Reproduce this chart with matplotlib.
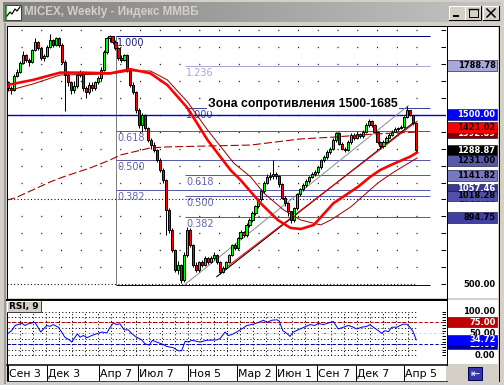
import numpy as np
import matplotlib
matplotlib.use("Agg")
import matplotlib.pyplot as plt
from matplotlib.patches import Rectangle
from matplotlib.colors import LinearSegmentedColormap

plt.rcParams['lines.scale_dashes'] = False

# ---- weekly candles (bar index 0 = week of Sep 3 2007) ----
closes = [1657, 1646, 1728, 1752, 1805, 1852, 1822, 1811, 1881, 1929,
          1893, 1834, 1846, 1899, 1940, 1911, 1952, 1911, 1811, 1734,
          1693, 1646, 1669, 1734, 1752, 1657, 1634, 1675, 1657, 1693,
          1716, 1763, 1870, 1952, 1964, 1929, 1893, 1834, 1822, 1852,
          1763, 1675, 1634, 1528, 1439, 1498, 1422, 1351, 1321, 1292,
          1233, 1174, 1115, 938, 820, 702, 584, 614, 525, 673,
          820, 732, 614, 584, 631, 614, 655, 631, 655, 673,
          631, 573, 596, 631, 673, 732, 714, 773, 808, 791,
          850, 880, 920, 960, 1000, 1050, 1100, 1130, 1140, 1150,
          1140, 1090, 1010, 980, 930, 880, 950, 1030, 1060, 1085,
          1110, 1130, 1150, 1160, 1190, 1230, 1250, 1280, 1300, 1350,
          1390, 1330, 1300, 1290, 1340, 1380, 1360, 1385, 1375, 1400,
          1440, 1462, 1440, 1400, 1340, 1315, 1340, 1365, 1380, 1400,
          1415, 1420, 1430, 1487, 1528, 1498, 1451, 1289]
highs = [1700, 1670, 1740, 1770, 1815, 1875, 1860, 1835, 1890, 1950,
         1935, 1900, 1860, 1910, 1975, 1945, 1960, 1960, 1920, 1820,
         1760, 1700, 1700, 1745, 1765, 1760, 1670, 1690, 1690, 1700,
         1730, 1780, 1880, 1960, 1970, 1966, 1940, 1900, 1850, 1860,
         1855, 1770, 1690, 1640, 1540, 1510, 1505, 1430, 1365, 1340,
         1300, 1245, 1185, 1120, 950, 830, 710, 640, 620, 690,
         840, 830, 740, 630, 640, 645, 665, 660, 665, 690,
         680, 640, 605, 640, 680, 740, 745, 780, 820, 815,
         860, 890, 930, 970, 1010, 1060, 1110, 1150, 1160, 1233,
         1165, 1145, 1095, 1020, 985, 935, 955, 1040, 1070, 1095,
         1120, 1140, 1160, 1175, 1200, 1240, 1260, 1290, 1310, 1360,
         1400, 1395, 1340, 1310, 1350, 1390, 1390, 1395, 1390, 1410,
         1450, 1475, 1470, 1445, 1405, 1345, 1350, 1375, 1390, 1410,
         1425, 1430, 1440, 1495, 1553, 1530, 1500, 1455]
lows = [1640, 1620, 1640, 1720, 1745, 1800, 1810, 1790, 1805, 1875,
        1880, 1820, 1815, 1840, 1895, 1900, 1905, 1900, 1800, 1520,
        1670, 1620, 1630, 1660, 1720, 1640, 1600, 1620, 1640, 1645,
        1680, 1700, 1760, 1860, 1930, 1915, 1880, 1825, 1810, 1815,
        1750, 1665, 1620, 1510, 1420, 1400, 1410, 1340, 1300, 1280,
        1220, 1160, 1100, 790, 800, 690, 570, 560, 505, 515,
        660, 720, 600, 570, 575, 600, 605, 620, 625, 645,
        620, 560, 565, 590, 625, 665, 700, 705, 765, 780,
        780, 840, 870, 910, 950, 990, 1040, 1090, 1115, 1120,
        1120, 1075, 1000, 960, 900, 861, 870, 940, 1020, 1050,
        1075, 1100, 1125, 1140, 1150, 1180, 1220, 1240, 1270, 1290,
        1340, 1320, 1290, 1280, 1285, 1330, 1350, 1355, 1360, 1365,
        1390, 1430, 1430, 1390, 1330, 1300, 1305, 1335, 1360, 1375,
        1395, 1405, 1415, 1420, 1480, 1490, 1440, 1280]
opens = [1690] + closes[:-1]  # each week opens at the previous close

# moving averages (bar index, price)
ma_fast_idx = [-0.4, 8.3, 17.4, 25.2, 34.2, 41.0, 47.7, 53.4, 60.2, 66.9, 74.6, 78.0,
               84.7, 90.5, 94.8, 98.2, 102.6, 109.2, 117.4, 121.5, 124.9, 129.2, 134.9, 137.3]
ma_fast = [1675, 1705, 1748, 1748, 1744, 1768, 1744, 1675, 1539, 1351, 1174, 1115,
           979, 879, 832, 826, 850, 978, 1074, 1133, 1174, 1209, 1252, 1277]
ma_slow_idx = [-0.4, 8.3, 17.4, 34.2, 41.0, 47.7, 53.4, 60.2, 66.9, 75.7, 81.4, 85.8,
               92.5, 98.2, 104.9, 108.3, 115.0, 124.1, 129.5, 137.3]
ma_slow = [1640, 1681, 1734, 1740, 1758, 1758, 1705, 1575, 1410, 1215, 1133, 1038,
           938, 879, 850, 879, 956, 1097, 1162, 1245]
ma_long_idx = [-0.44, 2.3, 14.0, 18.4, 27.5, 34.2, 37.6, 47.7, 53.4, 81.4, 98.2, 109.3, 122.8, 137.6]
ma_long = [997, 1009, 1103, 1133, 1186, 1233, 1262, 1304, 1310, 1321, 1357, 1368, 1386, 1398]

# trend lines
trend_gray = ([59.4, 134.3], [500, 1553])
trend_black = ([70.0, 135.9], [545, 1451])
trend_red = ([71.1, 137.3], [572, 1462])

# fibonacci sets: (start index, low, high)
fib1 = (36.2, 495.7, 1966.4)
fib1_levels = [0.382, 0.5, 0.618]
fib2 = (59.4, 494.84, 1541.7)
fib2_levels = [0.382, 0.5, 0.618, 1.0, 1.236]
resist_level = 1500

# right scale labels: (text, position, face, text colour); later ones cover earlier
price_tags = [("1788.78", 1788.78, "#a8a8d8", "black"),
              ("1500.00", 1500.0, "#0000ff", "white"),
              ("1392.89", 1392.0, "#800000", "white"),
              ("1421.02", 1426.0, "#ff0000", "#200000"),
              ("1288.87", 1288.87, "#000000", "white"),
              ("1231.00", 1231.0, "#5858a8", "black"),
              ("1141.82", 1141.82, "#7878c0", "black"),
              ("1000.00", 998.0, "#ffffff", "black"),
              ("1057.46", 1062.0, "#383890", "white"),
              ("1018.28", 1021.0, "#5050a8", "black"),
              ("894.75", 894.75, "#4040a0", "black"),
              ("500.00", 500.0, "#ffffff", "black")]

# RSI(9)
rsi_idx = [-0.3, 1.1, 2.3, 4.5, 5.6, 6.7, 9.0, 10.9, 12.9, 14.0,
           15.1, 16.8, 17.9, 19.0, 20.7, 21.3, 22.1, 23.2, 24.1, 25.2,
           26.5, 28.0, 29.7, 31.4, 33.1, 34.2, 35.3, 36.4, 37.5, 38.9,
           40.3, 41.5, 43.1, 44.8, 45.9, 47.3, 48.4, 49.8, 51.5, 53.2,
           55.4, 57.1, 58.2, 59.4, 60.5, 61.6, 64.4, 66.6, 70.0, 71.1,
           72.8, 73.9, 75.0, 76.7, 78.4, 80.1, 82.3, 84.0, 85.7, 86.8,
           88.5, 90.2, 91.0, 92.2, 93.5, 94.6, 95.7, 98.0, 99.7, 101.3,
           103.0, 104.1, 105.8, 108.1, 109.2, 110.8, 112.5, 114.2, 115.9, 117.0,
           118.7, 120.4, 121.5, 122.6, 124.3, 125.4, 126.5, 127.7, 128.8, 130.5,
           131.6, 132.7, 133.8, 134.9, 136.0, 137.0]
rsi_val = [49, 56, 68, 73, 68, 72, 75, 53, 68, 66,
           70, 64, 53, 41, 34, 30, 38, 49, 41, 45,
           40, 45, 49, 53, 51, 64, 74, 70, 72, 58,
           58, 49, 41, 35, 26, 23, 34, 30, 26, 20,
           17, 10, 10, 32, 30, 34, 30, 34, 35, 38,
           53, 45, 47, 53, 60, 68, 71, 75, 80, 75,
           80, 81, 78, 56, 50, 43, 53, 60, 65, 70,
           68, 73, 70, 75, 77, 60, 64, 68, 64, 60,
           64, 66, 70, 64, 56, 50, 56, 54, 64, 64,
           68, 71, 71, 64, 53, 35]
rsi_tags = [("100.00", 100, "#ffffff", "black"),
            ("50.00", 50, "#ffffff", "black"),
            ("25.00", 25, "#0000a0", "white"),
            ("75.00", 75, "#c00000", "white"),
            ("34.72", 34.72, "#0000ff", "white"),
            ("0.00", 0, "#ffffff", "black")]

date_labels = ["Сен 3", "Дек 3", "Апр 7", "Июл 7", "Ноя 5", "Мар 2",
               "Июн 1", "Сен 7", "Дек 7", "Апр 5"]
date_idx = [0, 13, 30.5, 43.5, 60.5, 76.7, 89.8, 103.8, 116.8, 133]

# ---------------------------------------------------------------
W, H = 504, 385
PX = 0.72  # one pixel in points
XLIM = (-0.44, 147.0)
YLIM = (419.2, 2022.9)
RLIM = (-20.3, 126.4)
GRAY = "#d4d0c8"

fig = plt.figure(figsize=(W / 100, H / 100), dpi=100, facecolor=GRAY)


def px_axes(x0, y0, x1, y1, z=1):
    a = fig.add_axes([x0 / W, 1 - y1 / H, (x1 - x0) / W, (y1 - y0) / H], zorder=z)
    for s in a.spines.values():
        s.set_visible(False)
    return a


def draw_tags(a, tags, half):
    # each tag box hides the text of the tags drawn before it
    for n, (txt, pos, fc, tc) in enumerate(tags):
        ec = "none" if fc == "#ffffff" else "#101030"
        a.add_patch(Rectangle((1, pos - half), 50, 2 * half, fc=fc, ec=ec,
                              lw=0.6 * PX, zorder=2 + 2 * n))
        a.text(49.5, pos, txt, color=tc, fontsize=6.0, fontweight="bold",
               ha="right", va="center", zorder=3 + 2 * n)


# window chrome underneath
bg = px_axes(0, 0, W, H, z=0)
bg.set_facecolor(GRAY)
cmap = LinearSegmentedColormap.from_list("tb", ["#808080", "#c4c4c4"])
bg.imshow(np.linspace(0, 1, 256).reshape(1, -1), extent=(3, 501, 22, 2),
          cmap=cmap, aspect="auto", zorder=1)
bg.add_patch(Rectangle((5, 5), 16, 15, fc="white", ec="#404040", lw=PX, zorder=2))
bg.plot([6, 6], [5.5, 19.5], color="#00a000", lw=1.5 * PX, zorder=3)
bg.plot([7, 10, 12, 15, 17, 20], [16, 12, 14, 9, 11, 7], color="black", lw=1.2 * PX, zorder=3)
bg.text(24, 12.5, "MICEX, Weekly - Индекс ММВБ", color=GRAY, fontsize=8.4,
        fontweight="bold", family="Liberation Sans", va="center", zorder=3)
for x0 in (449, 465, 483):
    bg.add_patch(Rectangle((x0, 6), 16, 14, fc=GRAY, ec="none", zorder=2))
    bg.plot([x0, x0, x0 + 16], [20, 6, 6], color="white", lw=PX, zorder=3)
    bg.plot([x0, x0 + 16, x0 + 16], [20, 20, 6], color="black", lw=PX, zorder=3)
bg.add_patch(Rectangle((453, 15), 6, 2, fc="black", ec="none", zorder=4))
bg.add_patch(Rectangle((468.5, 8.5), 9, 8, fc="none", ec="black", lw=PX, zorder=4))
bg.plot([468.5, 477.5], [9.2, 9.2], color="black", lw=1.4 * PX, zorder=4)
bg.plot([487, 495], [9, 17], color="black", lw=1.5 * PX, zorder=4)
bg.plot([487, 495], [17, 9], color="black", lw=1.5 * PX, zorder=4)
bg.plot([4.5, 4.5], [24, 383], color="#9a9a9a", lw=2 * PX, zorder=2)
bg.set_xlim(0, W)
bg.set_ylim(H, 0)
bg.axis("off")

# ---- main price panel ----
ax = px_axes(7, 26, 446, 298)
ax.set_facecolor("white")
ax.set_xlim(*XLIM)
ax.set_ylim(*YLIM)
ax.set_xticks([])
ax.set_yticks(range(500, 2001, 100))
ax.yaxis.tick_right()
ax.tick_params(axis="y", direction="in", length=3.5, width=PX, labelright=False)

dot_rows = [v for v in range(600, 2001, 100) if v != 1000]
ax.hlines(dot_rows, XLIM[0], 141.7, colors="black", lw=1.3 * PX,
          linestyles=[(4.1, (PX, 13.5))], zorder=1)
ax.hlines([500, 1000], XLIM[0], 137.2, colors="black", lw=1.1 * PX,
          linestyles=[(0, (PX, 1.7))], zorder=1)

# fibonacci set 1
x1, lo1, hi1 = fib1
ax.vlines(x1, lo1, hi1, colors="#808080", lw=PX, zorder=2)
ax.hlines([lo1, hi1], x1, 141.7, colors="#000080", lw=PX, zorder=2)
ax.text(x1 + 0.4, hi1 - 12, "1.000", color="#202080", fontsize=7, va="top", zorder=3)
for r in fib1_levels:
    lv = lo1 + r * (hi1 - lo1)
    ax.hlines(lv, x1, 141.7, colors="#5a5aaa", lw=PX, zorder=2)
    ax.text(x1 + 0.4, lv - 12, f"{r:.3f}", color="#6464b0", fontsize=7, va="top", zorder=3)

# fibonacci set 2
x2, lo2, hi2 = fib2
for r in fib2_levels:
    lv = lo2 + r * (hi2 - lo2)
    lc = "#a8a8d8" if r > 1 else ("#404098" if r == 1 else "#5a5aaa")
    tc = "#a8a8d0" if r > 1 else ("#3c3ca0" if r == 1 else "#6464b0")
    ax.hlines(lv, x2, 141.7, colors=lc, lw=PX, zorder=2)
    ax.text(x2 + 0.4, lv - 12, f"{r:.3f}", color=tc, fontsize=7, va="top", zorder=3)

ax.axhline(resist_level, color="#0000d0", lw=1.4 * PX, zorder=3)

ax.plot(*trend_gray, color="#8c8c8c", lw=PX, zorder=4)
ax.plot(*trend_black, color="black", lw=1.1 * PX, zorder=4)
ax.plot(*trend_red, color="#ff0000", lw=PX, zorder=4)

idx = np.arange(len(closes))
o = np.array(opens)
c = np.array(closes)
ax.vlines(idx, lows, highs, colors="black", lw=PX, zorder=5)
ax.bar(idx, c - o, bottom=o, width=0.72,
       color=np.where(c >= o, "#00ff00", "#ff0000"),
       edgecolor="black", linewidth=PX, zorder=6)

ax.plot(ma_long_idx, ma_long, color="#a00000", lw=1.1 * PX,
        dashes=(5.8, 2.2), zorder=7)
ax.plot(ma_slow_idx, ma_slow, color="#a00000", lw=PX, zorder=7)
ax.plot(ma_fast_idx, ma_fast, color="#ff0000", lw=2.6 * PX, zorder=7)

ax.text(67.1, 1563, "Зона сопротивления 1500-1685", fontsize=8.8, fontweight="bold",
        family="Liberation Sans", va="center", ha="left", zorder=8,
        bbox=dict(fc="white", ec="none", pad=0.6))

# right price scale
rp = px_axes(446, 26, 498, 298)
rp.set_facecolor("white")
rp.set_xlim(0, 52)
rp.set_ylim(*YLIM)
rp.set_xticks([])
rp.set_yticks([])
draw_tags(rp, price_tags, 32)

# ---- RSI panel ----
rs = px_axes(7, 300, 446, 364)
rs.set_facecolor("white")
rs.set_xlim(*XLIM)
rs.set_ylim(*RLIM)
rs.set_xticks([])
rs.set_yticks(np.arange(0, 100.1, 6.25))
rs.yaxis.tick_right()
rs.tick_params(axis="y", direction="in", length=3, width=PX, labelright=False)
rs.hlines(np.arange(0, 100.1, 12.5), -0.2, 137.2, colors="black", lw=PX,
          linestyles=[(0, (PX, 1.7))], zorder=1)
rs.vlines(np.arange(3.9, 137.5, 4.35), 0, 100, colors="black", lw=PX,
          linestyles=[(0, (PX, 1.7))], zorder=1)
rs.axhline(50, color="#dcdcdc", lw=PX, dashes=(2.2, 1.5), zorder=2)
rs.axhline(75, color="#c00000", lw=PX, dashes=(2.4, 1.5), zorder=2)
rs.axhline(25, color="#0000c0", lw=PX, dashes=(2.4, 1.5), zorder=2)
rs.plot(rsi_idx, rsi_val, color="#0000ff", lw=1.0 * PX, zorder=3)

rr = px_axes(446, 300, 498, 364)
rr.set_facecolor("white")
rr.set_xlim(0, 52)
rr.set_ylim(*RLIM)
rr.set_xticks([])
rr.set_yticks([])
draw_tags(rr, rsi_tags, 11.5)

# ---- date strip ----
ds = px_axes(7, 365, 446, 381)
ds.set_facecolor("white")
ds.set_xlim(*XLIM)
ds.set_ylim(0, 1)
ds.set_xticks([])
ds.set_yticks([])
ds.vlines(date_idx, 0, 1, colors="black", lw=PX)
for lab, xi in zip(date_labels, date_idx):
    ds.text(xi + 0.35, 0.45, lab, fontsize=7.8, va="center", ha="left")

# ---- frames and small widgets on top ----
ov = px_axes(0, 0, W, H, z=20)
ov.patch.set_alpha(0)
ov.set_xlim(0, W)
ov.set_ylim(H, 0)
ov.axis("off")
k = dict(color="black", lw=PX)
ov.plot([6.5, 498.5], [25.5, 25.5], **k)
ov.plot([6.5, 6.5], [25.5, 381], **k)
ov.plot([498.5, 498.5], [25.5, 381], **k)
ov.plot([446.5, 446.5], [25.5, 364.5], **k)
ov.plot([6.5, 446.5], [299.5, 299.5], color="black", lw=2 * PX)
ov.plot([6.5, 446.5], [364.5, 364.5], color="black", lw=1.5 * PX)
ov.plot([6.5, 446.5], [380.5, 380.5], color="#404040", lw=PX)
# RSI caption
ov.add_patch(Rectangle((7, 301), 34, 10.5, fc=GRAY, ec="none"))
ov.plot([7, 7, 41], [311.5, 301, 301], color="white", lw=PX)
ov.plot([7, 41, 41], [311.5, 311.5, 301], color="#404040", lw=PX)
ov.text(9, 306.4, "RSI, 9", fontsize=6.5, fontweight="bold", va="center")
# scroll button
ov.add_patch(Rectangle((468, 367), 14, 13, fc="#3434a8", ec="#000050", lw=PX))
ov.text(475, 373.8, "⇤", color="white", fontsize=8, ha="center", va="center")

fig.savefig("out.png", dpi=100, facecolor=GRAY)
